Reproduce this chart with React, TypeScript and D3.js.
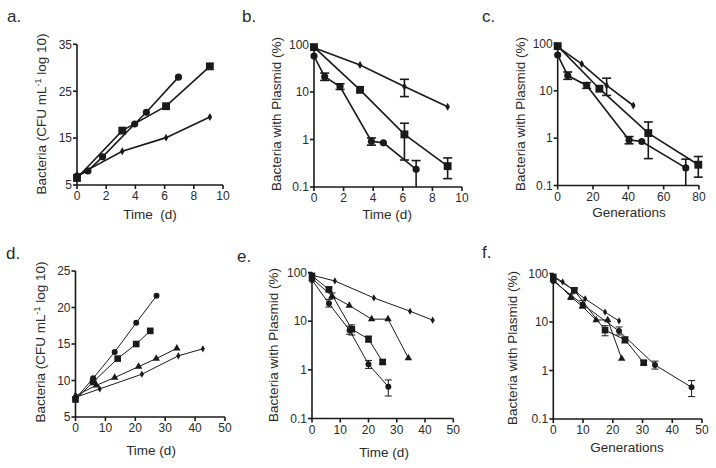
import React from "react";
import * as d3 from "d3";

// ---------- Panel a: growth (time, d) ----------
const aCircleX = [0, 0.75, 1.75, 3.95, 4.75, 6.95];
const aCircleY = [6.9, 8.0, 11.0, 18.0, 20.5, 28.0];
const aSquareX = [0, 3.1, 6.1, 9.1];
const aSquareY = [6.5, 16.6, 21.8, 30.3];
const aDiamondX = [0, 3.1, 6.1, 9.1];
const aDiamondY = [7.0, 12.2, 15.1, 19.5];

// ---------- Panels b / c: plasmid retention ----------
const bcCircleY = [57, 21, 13, 0.92, 0.85, 0.235];
const bcCircleErr: ([number, number] | null)[] = [null, [17.5, 25], [11.3, 14.9], [0.76, 1.08], null, [0.1, 0.36]];
const bcSquareY = [88, 11.1, 1.28, 0.275];
const bcSquareErr: ([number, number] | null)[] = [null, null, [0.37, 2.2], [0.15, 0.41]];
const bcDiamondY = [85, 37, 13, 4.9];
const bcDiamondErr: ([number, number] | null)[] = [null, null, [8, 18.5], null];

const bCircleX = [0, 0.72, 1.76, 3.88, 4.69, 6.9];
const bSquareX = [0, 3.11, 6.11, 9.03];
const bDiamondX = [0, 3.11, 6.11, 9.03];

const cCircleX = [0, 5.7, 16.4, 40.4, 47.6, 72.5];
const cSquareX = [0, 23.6, 51.3, 79.6];
const cDiamondX = [0, 13.6, 27.7, 42.8];

// ---------- Panel d: growth (time, d) ----------
const dCircleX = [0, 5.9, 13.1, 20.3, 27.1];
const dCircleY = [7.5, 10.3, 13.9, 17.9, 21.6];
const dSquareX = [0, 5.9, 14.1, 20.3, 25];
const dSquareY = [7.4, 9.8, 13.0, 15.0, 16.8];
const dTriangleX = [0, 7, 13.1, 21.1, 27, 33.9];
const dTriangleY = [7.9, 9.35, 10.4, 11.9, 13.0, 14.4];
const dDiamondX = [0, 8.1, 22.2, 34.4, 42.6];
const dDiamondY = [7.7, 8.85, 10.86, 13.38, 14.34];

// ---------- Panels e / f: plasmid retention ----------
const efDiamondY = [88, 67, 30, 16, 10.5];
const efTriangleY = [75, 33, 21, 11, 11, 1.75];
const efTriangleErr: ([number, number] | null)[] = [null, [29, 38], null, null, null, null];
const efSquareY = [85, 45, 6.8, 4.3, 1.45];
const efSquareErr: ([number, number] | null)[] = [null, [40, 50], [5.2, 8.4], [3.7, 4.9], [1.3, 1.6]];
const efCircleY = [70, 23, 6.5, 1.3, 0.45];
const efCircleErr: ([number, number] | null)[] = [null, [19.5, 28], [5.4, 7.9], [1.07, 1.56], [0.29, 0.62]];

const eDiamondX = [0, 8.1, 21.9, 34.7, 42.7];
const eTriangleX = [0, 7.1, 13.2, 21.1, 26.9, 34.1];
const eSquareX = [0, 6, 14.1, 20, 25];
const eCircleX = [0, 6, 13.3, 20, 27];

const fDiamondX = [0, 3.15, 10.7, 17.4, 22.1];
const fTriangleX = [0, 5.95, 9.75, 14.4, 18.3, 23.0];
const fSquareX = [0, 7.06, 17.4, 24.1, 30.4];
const fCircleX = [0, 9.9, 22.1, 34.2, 46.5];

// tick labels
const growthTicksA = [5, 15, 25, 35];
const growthTicksD = [5, 10, 15, 20, 25];
const logTicks = [0.1, 1, 10, 100];
const timeTicksA = [0, 2, 4, 6, 8, 10];
const genTicksC = [0, 20, 40, 60, 80];
const timeTicksD = [0, 10, 20, 30, 40, 50];

type Err = [number, number] | null;
type Shape = "circle" | "square" | "diamond" | "triangle";
interface Series {
  shape: Shape;
  x: number[];
  y: number[];
  err?: Err[];
}

const FONT = "'Liberation Sans', Arial, Helvetica, sans-serif";
const INK = "#1a1a1a";
const TXT = "#2b2b2b";

interface PanelProps {
  letter: string;
  letterX: number;
  letterY: number;
  px: [number, number];
  py: [number, number]; // [bottom, top]
  xDomain: [number, number];
  xTicks: number[];
  log: boolean;
  yDomain: [number, number];
  yTicks: number[];
  yTitle: React.ReactNode;
  yTitleX: number;
  yTitleY: number;
  xTitle: string;
  xTitleX: number;
  xTitleY: number;
  series: Series[];
  lw: number;
  sizes: Record<Shape, number>;
  cap: number;
}

function Panel(p: PanelProps) {
  const x = d3.scaleLinear().domain(p.xDomain).range(p.px);
  const y = p.log
    ? d3.scaleLog().domain(p.yDomain).range(p.py)
    : d3.scaleLinear().domain(p.yDomain).range(p.py);
  const line = d3
    .line<[number, number]>()
    .x((d) => x(d[0]))
    .y((d) => y(d[1]));
  const symType: Record<Shape, d3.SymbolType> = {
    circle: d3.symbolCircle,
    square: d3.symbolSquare,
    diamond: d3.symbolDiamond,
    triangle: d3.symbolTriangle,
  };
  const axX = p.px[0];
  const axY = p.py[0];
  return (
    <g>
      <text x={p.letterX} y={p.letterY} fontSize={17} fontFamily={FONT} fill={TXT}>
        {p.letter}
      </text>
      {p.series.map((s, i) => (
        <path
          key={"l" + i}
          d={line(s.x.map((v, j) => [v, s.y[j]] as [number, number])) || ""}
          fill="none"
          stroke={INK}
          strokeWidth={p.lw}
        />
      ))}
      {p.series.map((s, i) =>
        (s.err || []).map((e, j) => {
          if (!e) return null;
          const cx = x(s.x[j]);
          const y1 = y(e[0]);
          const y2 = y(e[1]);
          return (
            <g key={"e" + i + "-" + j} stroke={INK} strokeWidth={p.lw}>
              <line x1={cx} x2={cx} y1={y1} y2={y2} />
              {e[0] > p.yDomain[0] && <line x1={cx - p.cap} x2={cx + p.cap} y1={y1} y2={y1} />}
              <line x1={cx - p.cap} x2={cx + p.cap} y1={y2} y2={y2} />
            </g>
          );
        })
      )}
      {p.series.map((s, i) =>
        s.x.map((v, j) => (
          <path
            key={"m" + i + "-" + j}
            transform={`translate(${x(v)},${y(s.y[j])})`}
            d={d3.symbol().type(symType[s.shape]).size(p.sizes[s.shape])() || ""}
            fill={INK}
          />
        ))
      )}
      <g stroke={INK} strokeWidth={1.6} fill="none">
        <line x1={axX} x2={axX} y1={axY} y2={p.py[1]} />
        <line x1={axX} x2={p.px[1]} y1={axY} y2={axY} />
        {p.yTicks.map((t) => (
          <line key={"yt" + t} x1={axX - 4} x2={axX} y1={y(t)} y2={y(t)} />
        ))}
        {p.xTicks.map((t) => (
          <line key={"xt" + t} x1={x(t)} x2={x(t)} y1={axY} y2={axY + 4} />
        ))}
      </g>
      <g fontFamily={FONT} fontSize={12} fill={TXT}>
        {p.yTicks.map((t) => (
          <text key={"yl" + t} x={axX - 5} y={y(t)} dy="0.36em" textAnchor="end">
            {String(t)}
          </text>
        ))}
        {p.xTicks.map((t) => (
          <text key={"xl" + t} x={x(t)} y={axY + 15} textAnchor="middle">
            {t}
          </text>
        ))}
      </g>
      <text
        x={p.xTitleX}
        y={p.xTitleY}
        textAnchor="middle"
        fontFamily={FONT}
        fontSize={13.5}
        fill={TXT}
        style={{ whiteSpace: "pre" }}
      >
        {p.xTitle}
      </text>
      <text
        transform={`translate(${p.yTitleX},${p.yTitleY}) rotate(-90)`}
        textAnchor="middle"
        fontFamily={FONT}
        fontSize={13.5}
        fill={TXT}
      >
        {p.yTitle}
      </text>
    </g>
  );
}

const growthTitle = (
  <>
    Bacteria (CFU mL
    <tspan fontSize={9} dy={-5}>
      -1
    </tspan>
    <tspan dy={5}> log 10)</tspan>
  </>
);
const plasmidTitle = "Bacteria with Plasmid (%)";

const topSizes: Record<Shape, number> = { circle: 40, square: 62, diamond: 18, triangle: 30 };
const botSizes: Record<Shape, number> = { circle: 28, square: 44, diamond: 15, triangle: 24 };

export default function App() {
  return (
    <svg
      width={716}
      height={468}
      style={{ position: "absolute", left: 0, top: 0, background: "#fff" }}
    >
      <rect width={716} height={468} fill="#fff" />
      <Panel
        letter="a."
        letterX={7}
        letterY={22}
        px={[77, 223]}
        py={[185, 44.3]}
        xDomain={[0, 10]}
        xTicks={timeTicksA}
        log={false}
        yDomain={[5, 35]}
        yTicks={growthTicksA}
        yTitle={growthTitle}
        yTitleX={46}
        yTitleY={114}
        xTitle="Time  (d)"
        xTitleX={150}
        xTitleY={219}
        lw={1.6}
        sizes={topSizes}
        cap={4}
        series={[
          { shape: "diamond", x: aDiamondX, y: aDiamondY },
          { shape: "square", x: aSquareX, y: aSquareY },
          { shape: "circle", x: aCircleX, y: aCircleY },
        ]}
      />
      <Panel
        letter="b."
        letterX={242}
        letterY={22}
        px={[314, 462]}
        py={[187, 44.5]}
        xDomain={[0, 10]}
        xTicks={timeTicksA}
        log={true}
        yDomain={[0.1, 100]}
        yTicks={logTicks}
        yTitle={plasmidTitle}
        yTitleX={281}
        yTitleY={114}
        xTitle="Time (d)"
        xTitleX={387}
        xTitleY={219}
        lw={1.6}
        sizes={topSizes}
        cap={4.5}
        series={[
          { shape: "diamond", x: bDiamondX, y: bcDiamondY, err: bcDiamondErr },
          { shape: "square", x: bSquareX, y: bcSquareY, err: bcSquareErr },
          { shape: "circle", x: bCircleX, y: bcCircleY, err: bcCircleErr },
        ]}
      />
      <Panel
        letter="c."
        letterX={482}
        letterY={22}
        px={[557.7, 699]}
        py={[185.5, 43.5]}
        xDomain={[0, 80]}
        xTicks={genTicksC}
        log={true}
        yDomain={[0.1, 100]}
        yTicks={logTicks}
        yTitle={plasmidTitle}
        yTitleX={525}
        yTitleY={114}
        xTitle="Generations"
        xTitleX={629}
        xTitleY={217}
        lw={1.6}
        sizes={topSizes}
        cap={4.5}
        series={[
          { shape: "diamond", x: cDiamondX, y: bcDiamondY, err: bcDiamondErr },
          { shape: "square", x: cSquareX, y: bcSquareY, err: bcSquareErr },
          { shape: "circle", x: cCircleX, y: bcCircleY, err: bcCircleErr },
        ]}
      />
      <Panel
        letter="d."
        letterX={6}
        letterY={259}
        px={[75.5, 225]}
        py={[417, 271]}
        xDomain={[0, 50]}
        xTicks={timeTicksD}
        log={false}
        yDomain={[5, 25]}
        yTicks={growthTicksD}
        yTitle={growthTitle}
        yTitleX={45}
        yTitleY={342}
        xTitle="Time (d)"
        xTitleX={151}
        xTitleY={455}
        lw={1}
        sizes={botSizes}
        cap={3.5}
        series={[
          { shape: "diamond", x: dDiamondX, y: dDiamondY },
          { shape: "triangle", x: dTriangleX, y: dTriangleY },
          { shape: "square", x: dSquareX, y: dSquareY },
          { shape: "circle", x: dCircleX, y: dCircleY },
        ]}
      />
      <Panel
        letter="e."
        letterX={237}
        letterY={262}
        px={[312, 453.3]}
        py={[418.5, 272.5]}
        xDomain={[0, 50]}
        xTicks={timeTicksD}
        log={true}
        yDomain={[0.1, 100]}
        yTicks={logTicks}
        yTitle={plasmidTitle}
        yTitleX={278}
        yTitleY={345}
        xTitle="Time (d)"
        xTitleX={384}
        xTitleY={457}
        lw={1}
        sizes={botSizes}
        cap={3.5}
        series={[
          { shape: "diamond", x: eDiamondX, y: efDiamondY },
          { shape: "triangle", x: eTriangleX, y: efTriangleY, err: efTriangleErr },
          { shape: "square", x: eSquareX, y: efSquareY, err: efSquareErr },
          { shape: "circle", x: eCircleX, y: efCircleY, err: efCircleErr },
        ]}
      />
      <Panel
        letter="f."
        letterX={482}
        letterY={258}
        px={[553.3, 702]}
        py={[419, 273.5]}
        xDomain={[0, 50]}
        xTicks={timeTicksD}
        log={true}
        yDomain={[0.1, 100]}
        yTicks={logTicks}
        yTitle={plasmidTitle}
        yTitleX={517}
        yTitleY={348}
        xTitle="Generations"
        xTitleX={627}
        xTitleY={452}
        lw={1}
        sizes={botSizes}
        cap={3.5}
        series={[
          { shape: "diamond", x: fDiamondX, y: efDiamondY },
          { shape: "triangle", x: fTriangleX, y: efTriangleY, err: efTriangleErr },
          { shape: "square", x: fSquareX, y: efSquareY, err: efSquareErr },
          { shape: "circle", x: fCircleX, y: efCircleY, err: efCircleErr },
        ]}
      />
    </svg>
  );
}
